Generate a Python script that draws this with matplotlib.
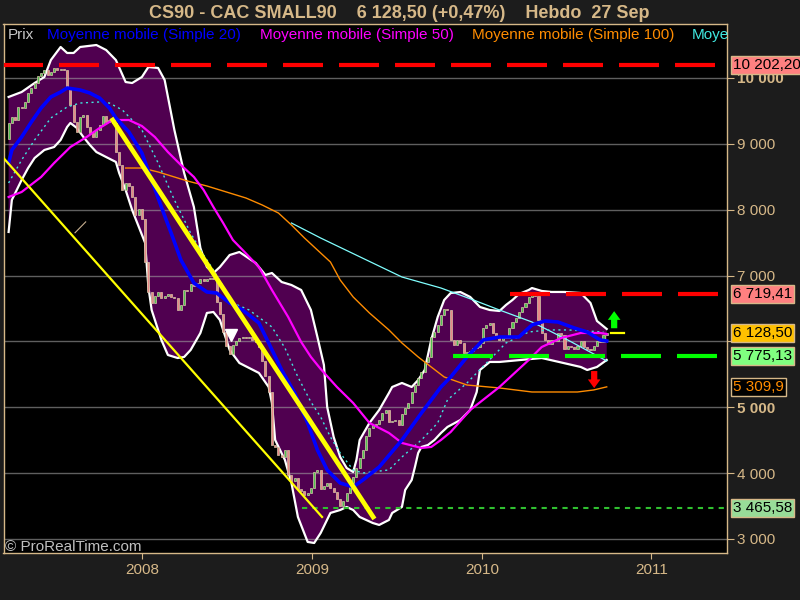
import numpy as np
import pandas as pd
import matplotlib
matplotlib.use("Agg")
import matplotlib.pyplot as plt
import matplotlib.dates as mdates

# ---------------- data ----------------
first_open = 9074
closes = [
    9317, 9408, 9362, 9560, 9545, 9636, 9772, 9848, 9924, 10030,
    10076, 10121, 10046, 10091, 10152, 10121, 10137, 10121, 9848, 9590,
    9332, 9180, 9408, 9438, 9256, 9165, 9104, 9210, 9286, 9423,
    9332, 9362, 9317, 8876, 8679, 8299, 8406, 8360, 8193, 7920,
    8011, 7859, 7206, 6751, 6584, 6690, 6751, 6660, 6690, 6720,
    6675, 6660, 6477, 6553, 6781, 6766, 6872, 6842, 6887, 6948,
    6918, 6948, 6963, 6948, 6599, 6417, 6143, 5931, 5809, 5946,
    6007, 6052, 6067, 6052, 6067, 6022, 5991, 5915, 5703, 5475,
    5232, 4428, 4397, 4276, 4246, 4352, 3972, 3881, 3926, 3759,
    3729, 3668, 3699, 3775, 4018, 4048, 3759, 3805, 3850, 3775,
    3714, 3607, 3501, 3577, 3699, 3850, 3941, 4078, 4230, 4352,
    4564, 4686, 4731, 4746, 4807, 4913, 4959, 4777, 4792, 4807,
    4731, 4898, 4989, 5065, 5232, 5338, 5445, 5536, 5688, 5764,
    6067, 6143, 6250, 6401, 6492, 6477, 6022, 5946, 6022, 5976,
    5824, 5840, 5855, 5900, 5915, 5976, 6204, 6250, 6280, 6128,
    6067, 6022, 6067, 6052, 6204, 6295, 6356, 6447, 6523, 6584,
    6675, 6751, 6690, 6326, 6128, 6022, 5961, 6022, 6007, 6128,
    6098, 5885, 5931, 5915, 5885, 5931, 6007, 5915, 5885, 5870,
    5931, 6007, 5991, 6100, 6128.5,
]
dates = pd.date_range("2007-03-19", periods=len(closes), freq="7D")

bb_up_idx = [0, 4, 8, 11, 13, 16, 18, 20, 22, 27, 30, 33, 36, 38, 41, 43, 46, 48, 51, 54,
             57, 59, 61, 63, 65, 68, 71, 76, 79, 81, 84, 87, 90, 93, 95, 97, 98, 100, 102, 104,
             106, 107, 108, 111, 114, 117, 118, 121, 124, 126, 128, 130, 132, 134, 136, 139, 142, 145, 148, 151,
             153, 155, 157, 160, 161, 164, 167, 171, 176, 179, 181, 184]
bb_up_val = [9712, 9787, 9924, 10015, 10273, 10471, 10380, 10380, 10471, 10501, 10425, 10273, 9939, 9924, 10015, 10167, 10152, 9970, 9210, 8558,
             8041, 7419, 7130, 7039, 7130, 7312, 7358, 7191, 7009, 7039, 6902, 6857, 6781, 6477, 6067, 5642, 5004, 4549, 4245, 4078,
             4017, 4200, 4503, 4762, 4959, 5217, 5308, 5369, 5308, 5414, 5566, 6022, 6371, 6629, 6735, 6750, 6675, 6523, 6477, 6462,
             6553, 6629, 6720, 6781, 6811, 6766, 6751, 6751, 6735, 6584, 6310, 6189]

bb_lo_idx = [0, 1, 4, 6, 8, 11, 14, 16, 18, 19, 21, 23, 25, 27, 30, 33, 34, 36, 38, 42,
             43, 44, 47, 49, 52, 54, 56, 59, 61, 63, 65, 68, 71, 77, 80, 81, 82, 85, 87, 89,
             92, 94, 96, 99, 102, 104, 106, 108, 110, 112, 114, 117, 118, 121, 122, 124, 125, 126, 127, 129,
             131, 133, 135, 139, 142, 144, 145, 148, 151, 164, 176, 178, 181, 184]
bb_lo_val = [7662, 8148, 8451, 8633, 8785, 8907, 8952, 9059, 9256, 9317, 9241, 9104, 8983, 8876, 8800, 8725, 8558, 8299, 7996, 7495,
             6827, 6477, 6022, 5794, 5748, 5764, 5870, 6128, 6432, 6447, 6325, 5870, 5672, 5521, 5308, 5065, 4503, 4200, 3851, 3334,
             2955, 2939, 3091, 3395, 3440, 3486, 3440, 3334, 3289, 3243, 3213, 3289, 3395, 3486, 3744, 3896, 4093, 4306, 4397, 4427,
             4503, 4609, 4701, 4807, 4959, 5232, 5566, 5688, 5688, 5748, 5612, 5566, 5612, 5718]

ma20_idx = [0, 1, 4, 7, 10, 13, 16, 18, 22, 25, 28, 31, 33, 37, 41, 44, 47, 50, 53, 57,
            61, 64, 68, 72, 77, 80, 84, 88, 92, 95, 98, 102, 106, 109, 114, 121, 127, 133, 136, 141,
            146, 151, 157, 161, 165, 169, 174, 178, 182, 184]
ma20_val = [8709, 8907, 9104, 9332, 9545, 9712, 9787, 9848, 9818, 9772, 9696, 9545, 9393, 9180, 8861, 8451, 8041, 7646, 7237, 6887,
            6751, 6735, 6584, 6477, 6280, 5976, 5566, 5217, 4762, 4352, 4048, 3850, 3790, 3896, 4093, 4503, 4913, 5308, 5460, 5764,
            6022, 6067, 6067, 6250, 6310, 6295, 6204, 6143, 6022, 6006]

ma50_idx = [0, 4, 10, 14, 19, 24, 28, 32, 37, 41, 45, 49, 53, 57, 60, 63, 66, 69, 72, 77,
            81, 86, 90, 93, 96, 101, 106, 111, 117, 121, 127, 130, 133, 136, 142, 151, 160, 164, 170, 176,
            182, 184]
ma50_val = [8193, 8269, 8497, 8709, 8952, 9104, 9241, 9362, 9362, 9271, 9104, 8876, 8679, 8497, 8299, 8041, 7798, 7540, 7388, 7130,
            6781, 6371, 5991, 5764, 5581, 5308, 5065, 4762, 4610, 4458, 4382, 4397, 4503, 4625, 4959, 5308, 5718, 5915, 6052, 6128,
            6128, 6113]

ma100_idx = [36, 41, 46, 51, 55, 61, 67, 73, 78, 83, 87, 91, 95, 99, 102, 106, 111, 117, 121, 126,
             130, 134, 141, 151, 161, 175, 180, 184]
ma100_val = [8633, 8633, 8573, 8497, 8436, 8360, 8269, 8178, 8072, 7950, 7768, 7571, 7388, 7206, 6933, 6675, 6432, 6174, 5976, 5764,
             5612, 5460, 5338, 5293, 5232, 5232, 5263, 5310]

ma_dot_idx = [0, 4, 8, 13, 18, 22, 28, 31, 35, 41, 46, 51, 56, 59, 63, 69, 74, 81, 85, 89,
              93, 96, 99, 102, 106, 109, 117, 121, 127, 132, 135, 141, 147, 153, 160, 166, 172, 178, 183]
ma_dot_val = [8406, 8755, 9059, 9393, 9560, 9620, 9636, 9620, 9514, 9210, 8709, 8148, 7646, 7388, 7085, 6584, 6477, 6219, 5900, 5460,
              5080, 4853, 4549, 4306, 4048, 4002, 4048, 4245, 4503, 4762, 5111, 5369, 5672, 5976, 6143, 6174, 6174, 6158, 6143]

ma_long_idx = [87, 96, 121, 133, 143, 151, 161, 172, 184]
ma_long_val = [7798, 7570, 6978, 6811, 6629, 6477, 6295, 6022, 5703]

# drawn objects (levels, trend lines)
resist_hi = 10202.20
resist_lo = 6719.41
support_hi = 5775.13
support_lo = 3465.58
last_price = 6128.50
ma100_last = 5309.9
trend_thick = (["2007-10-29", "2009-05-12"], [9362, 3334])
trend_thin = (["2007-03-08", "2009-01-22"], [8785, 3334])
small_seg = (["2007-08-09", "2007-09-01"], [7650, 7815])
triangle = ("2008-07-10", 6098)
arrow_up = ("2010-10-13", 6200, 6460)
arrow_dn = ("2010-08-31", 5550, 5290)

yticks = [3000, 4000, 5000, 6000, 7000, 8000, 9000, 10000]
xticks = ["2008-01-01", "2009-01-01", "2010-01-01", "2011-01-01"]
xlabels = ["2008", "2009", "2010", "2011"]

# ---------------- style ----------------
TAN = "#d6b888"
FONT = "Liberation Sans"
plt.rcParams["font.family"] = [FONT, "DejaVu Sans"]

fig = plt.figure(figsize=(8, 6), dpi=100, facecolor="#1c1c1c")
ax = fig.add_axes([3.5 / 800, 47 / 600, (727 - 3.5) / 800, (553 - 24) / 600])
ax.set_facecolor("black")

dn = mdates.date2num(dates.to_pydatetime())
ax.set_xlim(mdates.date2num(pd.Timestamp("2007-03-08")), mdates.date2num(pd.Timestamp("2011-06-13")))
ax.set_ylim(2787, 10820)

def sel(idx, val):
    return dn[np.array(idx)], np.array(val, dtype=float)

ux, uy = sel(bb_up_idx, bb_up_val)
lx, ly = sel(bb_lo_idx, bb_lo_val)
poly_x = np.concatenate([ux, lx[::-1]])
poly_y = np.concatenate([uy, ly[::-1]])
ax.fill(poly_x, poly_y, color="#500050", lw=0, zorder=1)

for v in yticks:
    ax.axhline(v, color="#a0a0a0", alpha=0.6, lw=1, zorder=1.5)

ax.plot(ux, uy, color="white", lw=1.6, zorder=2)
ax.plot(lx, ly, color="white", lw=1.6, zorder=2)

# candles
opens = np.array([first_open] + closes[:-1], dtype=float)
cl = np.array(closes, dtype=float)
up = cl >= opens
colors = np.where(up, "#50c050", "#e88888")
ax.bar(dn, cl - opens, bottom=opens, width=4.5, color=colors,
       edgecolor="#d8c8a8", linewidth=0.5, zorder=2.5)

# moving averages
x, y = sel(ma_long_idx, ma_long_val)
ax.plot(x, y, color="#80ffff", lw=0.9, zorder=2.6)
x, y = sel(ma100_idx, ma100_val)
ax.plot(x, y, color="#ff8c00", lw=1.0, zorder=2.7)
x, y = sel(ma_dot_idx, ma_dot_val)
ax.plot(x, y, color="#40e8e0", lw=1.0, ls=(0, (1.5, 2.5)), zorder=2.8)
x, y = sel(ma50_idx, ma50_val)
ax.plot(x, y, color="#ff00ff", lw=1.6, zorder=2.9)
x, y = sel(ma20_idx, ma20_val)
ax.plot(x, y, color="#0000ff", lw=2.6, zorder=3)

# levels
def d(s):
    return mdates.date2num(pd.Timestamp(s))

xl = ax.get_xlim()
lw_lvl = 3.0
dash = (40 * 0.72 / lw_lvl, 16 * 0.72 / lw_lvl)
ax.plot([xl[0], xl[1]], [resist_hi] * 2, color="#ff0000", lw=lw_lvl, dashes=dash, zorder=4)
ax.plot([d("2010-03-03"), xl[1]], [resist_lo] * 2, color="#ff0000", lw=lw_lvl, dashes=dash, zorder=4)
ax.plot([d("2009-10-30"), xl[1]], [support_hi] * 2, color="#00ff00", lw=lw_lvl, dashes=dash, zorder=4)
ax.plot([d("2008-12-10"), xl[1]], [support_lo] * 2, color="#30c030", lw=1.5,
        dashes=(2.5, 2.5), zorder=4)
ax.plot([d("2010-10-07"), d("2010-11-04")], [last_price] * 2, color="#ffff00", lw=1.6, zorder=4)

ax.plot([d(s) for s in trend_thin[0]], trend_thin[1], color="#ffff00", lw=1.6, zorder=4)
ax.plot([d(s) for s in trend_thick[0]], trend_thick[1], color="#ffff00", lw=3.4, zorder=4)
ax.plot([d(s) for s in small_seg[0]], small_seg[1], color="#c8b090", lw=0.8, zorder=4)
ax.plot([d(triangle[0])], [triangle[1]], marker="v", color="white", ms=8, zorder=5)

for (dt, a, b), col in [(arrow_up, "#00ff00"), (arrow_dn, "#ff0000")]:
    ax.annotate("", xy=(d(dt), b), xytext=(d(dt), a),
                arrowprops=dict(arrowstyle="simple,head_length=0.45,head_width=0.65,tail_width=0.32",
                                color=col, lw=0, shrinkA=0, shrinkB=0, mutation_scale=14),
                zorder=5)

# axes styling
for s in ax.spines.values():
    s.set_color(TAN)
    s.set_linewidth(1)
ax.yaxis.tick_right()
ax.set_yticks(yticks)
ax.set_yticklabels([f"{v:,}".replace(",", " ") for v in yticks])
for lbl, v in zip(ax.get_yticklabels(), yticks):
    if v in (5000, 10000):
        lbl.set_fontweight("bold")
    if v == 6000:
        lbl.set_visible(False)
ax.tick_params(axis="y", direction="out", length=5, color=TAN, labelcolor=TAN,
               labelsize=11, pad=2)
ax.set_xticks([d(s) for s in xticks])
ax.set_xticklabels(xlabels)
ax.tick_params(axis="x", direction="out", length=4, color=TAN, labelcolor=TAN,
               labelsize=11, pad=3)

# value boxes on price axis
boxes = [
    (resist_hi, "10 202,20", "#ff8080", "black"),
    (resist_lo, "6 719,41", "#ff8080", "black"),
    (last_price, "6 128,50", "#ffc000", "black"),
    (support_hi, "5 775,13", "#80ff80", "black"),
    (ma100_last, "5 309,9", "black", "#ff8c00"),
    (support_lo, "3 465,58", "#98dc98", "black"),
]
for val, txt, fc, tc in boxes:
    ax.annotate(txt, xy=(1.0, val), xycoords=("axes fraction", "data"),
                xytext=(4.5, 0), textcoords="offset points", ha="left", va="center",
                fontsize=11, color=tc, annotation_clip=False, zorder=10,
                bbox=dict(boxstyle="square,pad=0.12", fc=fc, ec=TAN, lw=1))

# title & legend texts
fig.text(399 / 800, 1 - 18 / 600, "CS90 - CAC SMALL90    6 128,50 (+0,47%)    Hebdo  27 Sep",
         ha="center", va="baseline", color=TAN, fontsize=13, fontweight="bold")
legend = [(8, "Prix", "#c8c8c8"),
          (47, "Moyenne mobile (Simple 20)", "#0000ff"),
          (260, "Moyenne mobile (Simple 50)", "#ff00ff"),
          (472, "Moyenne mobile (Simple 100)", "#ff8c00"),
          (692, "Moye", "#40e8e0")]
for px, txt, col in legend:
    fig.text(px / 800, 1 - 39 / 600, txt, ha="left", va="baseline", color=col, fontsize=11)
fig.text(5 / 800, 1 - 551 / 600, "\u00a9 ProRealTime.com", ha="left", va="baseline",
         color="#c0c0c0", fontsize=11)

fig.savefig("out.png", dpi=100, facecolor=fig.get_facecolor())
